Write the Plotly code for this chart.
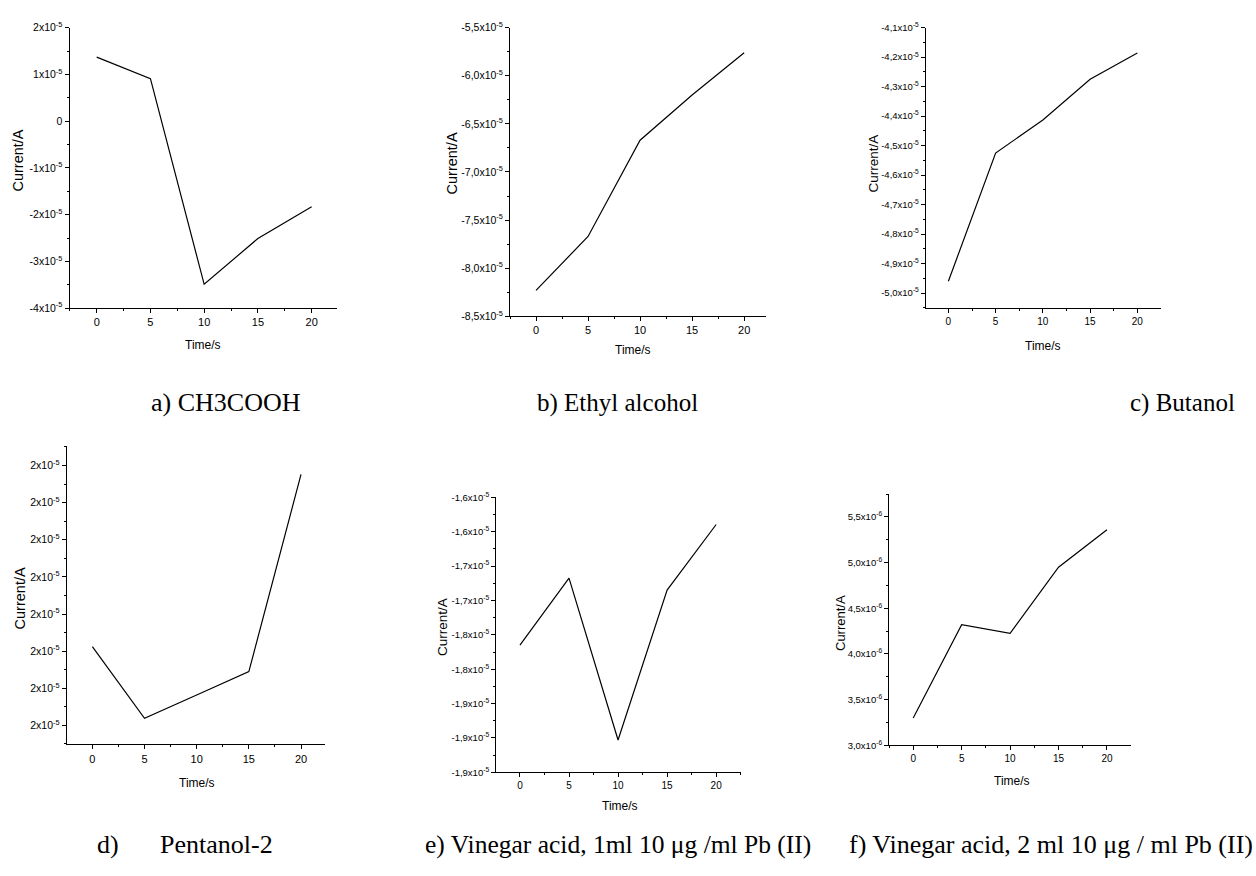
import plotly.graph_objects as go

W, H = 1256, 876

# ---------------- data ----------------
time_s = [0, 5, 10, 15, 20]

current_a = [1.37e-5, 0.91e-5, -3.49e-5, -2.51e-5, -1.83e-5]          # a) CH3COOH
current_b = [-8.23e-5, -7.67e-5, -6.67e-5, -6.20e-5, -5.76e-5]        # b) Ethyl alcohol
current_c = [-4.96e-5, -4.525e-5, -4.413e-5, -4.275e-5, -4.186e-5]    # c) Butanol
current_d = [1.9812e-5, 1.9619e-5, 1.9682e-5, 1.9745e-5, 2.0276e-5]   # d) Pentanol-2
current_e = [-1.752e-5, -1.674e-5, -1.8624e-5, -1.688e-5, -1.6116e-5] # e) Vinegar acid 1 ml
current_f = [3.30e-6, 4.32e-6, 4.226e-6, 4.95e-6, 5.36e-6]            # f) Vinegar acid 2 ml

# ---------------- tick values / labels ----------------
x_ticks = [0, 5, 10, 15, 20]
x_labels = ["0", "5", "10", "15", "20"]

yt_a = [2e-5, 1e-5, 0, -1e-5, -2e-5, -3e-5, -4e-5]
yl_a = ["2x10<sup>-5</sup>", "1x10<sup>-5</sup>", "0", "-1x10<sup>-5</sup>",
        "-2x10<sup>-5</sup>", "-3x10<sup>-5</sup>", "-4x10<sup>-5</sup>"]

yt_b = [-5.5e-5, -6.0e-5, -6.5e-5, -7.0e-5, -7.5e-5, -8.0e-5, -8.5e-5]
yl_b = ["-5,5x10<sup>-5</sup>", "-6,0x10<sup>-5</sup>", "-6,5x10<sup>-5</sup>", "-7,0x10<sup>-5</sup>",
        "-7,5x10<sup>-5</sup>", "-8,0x10<sup>-5</sup>", "-8,5x10<sup>-5</sup>"]

yt_c = [-4.1e-5, -4.2e-5, -4.3e-5, -4.4e-5, -4.5e-5, -4.6e-5, -4.7e-5, -4.8e-5, -4.9e-5, -5.0e-5]
yl_c = ["-4,1x10<sup>-5</sup>", "-4,2x10<sup>-5</sup>", "-4,3x10<sup>-5</sup>", "-4,4x10<sup>-5</sup>",
        "-4,5x10<sup>-5</sup>", "-4,6x10<sup>-5</sup>", "-4,7x10<sup>-5</sup>", "-4,8x10<sup>-5</sup>",
        "-4,9x10<sup>-5</sup>", "-5,0x10<sup>-5</sup>"]

yt_d = [2.03e-5, 2.02e-5, 2.01e-5, 2.00e-5, 1.99e-5, 1.98e-5, 1.97e-5, 1.96e-5]
yl_d = ["2x10<sup>-5</sup>"] * 8

yt_e = [-1.58e-5, -1.62e-5, -1.66e-5, -1.70e-5, -1.74e-5, -1.78e-5, -1.82e-5, -1.86e-5, -1.90e-5]
yl_e = ["-1,6x10<sup>-5</sup>", "-1,6x10<sup>-5</sup>", "-1,7x10<sup>-5</sup>", "-1,7x10<sup>-5</sup>",
        "-1,8x10<sup>-5</sup>", "-1,8x10<sup>-5</sup>", "-1,9x10<sup>-5</sup>", "-1,9x10<sup>-5</sup>",
        "-1,9x10<sup>-5</sup>"]

yt_f = [5.5e-6, 5.0e-6, 4.5e-6, 4.0e-6, 3.5e-6, 3.0e-6]
yl_f = ["5,5x10<sup>-6</sup>", "5,0x10<sup>-6</sup>", "4,5x10<sup>-6</sup>", "4,0x10<sup>-6</sup>",
        "3,5x10<sup>-6</sup>", "3,0x10<sup>-6</sup>"]

captions = ["a) CH3COOH", "b) Ethyl alcohol", "c) Butanol", "d)", "Pentanol-2",
            "e) Vinegar acid, 1ml 10 μg /ml Pb (II)", "f) Vinegar acid, 2 ml 10 μg / ml Pb (II)"]

# ---------------- layout helpers ----------------
SANS = "Liberation Sans"
SERIF = "Liberation Serif"


def mids(vals):
    v = sorted(vals)
    return [(v[i] + v[i + 1]) / 2 for i in range(len(v) - 1)]


panels = [
    dict(y=current_a, yt=yt_a, yl=yl_a, box=(69.5, 337, 20, 305), xr=[-2.53, 22.36], yr=[-4e-5, 2e-5], fs=10.5),
    dict(y=current_b, yt=yt_b, yl=yl_b, box=(510, 766, 20, 313.3), xr=[-2.5, 22.1], yr=[-8.5e-5, -5.5e-5], fs=10.5),
    dict(y=current_c, yt=yt_c, yl=yl_c, box=(925.7, 1160.7, 20, 305), xr=[-2.4, 22.47], yr=[-5.051e-5, -4.1e-5], fs=9.5),
    dict(y=current_d, yt=yt_d, yl=yl_d, box=(66.7, 325, 445, 748.3), xr=[-2.46, 22.3], yr=[1.9549e-5, 2.0353e-5], fs=10.5),
    dict(y=current_e, yt=yt_e, yl=yl_e, box=(496, 740.7, 497.3, 776.7), xr=[-2.44, 22.5], yr=[-1.90e-5, -1.58e-5], fs=9.5),
    dict(y=current_f, yt=yt_f, yl=yl_f, box=(889, 1130.7, 494, 749.3), xr=[-2.5, 22.45], yr=[3.0e-6, 5.75e-6], fs=9.5),
]

fig = go.Figure()
layout = dict(
    width=W, height=H, margin=dict(l=0, r=0, t=0, b=0),
    paper_bgcolor="white", plot_bgcolor="white", showlegend=False,
)

for i, p in enumerate(panels, start=1):
    xa = "x" if i == 1 else f"x{i}"
    ya = "y" if i == 1 else f"y{i}"
    fig.add_trace(go.Scatter(x=time_s, y=p["y"], mode="lines", xaxis=xa, yaxis=ya,
                             line=dict(color="black", width=1.2), hoverinfo="skip"))
    l, r, t, b = p["box"]
    ymins = mids(p["yt"])
    step = abs(p["yt"][0] - p["yt"][1])
    lo, hi = p["yr"]
    extra = [v for v in (min(p["yt"]) - step / 2, max(p["yt"]) + step / 2) if lo - 1e-12 <= v <= hi + 1e-12]
    layout["xaxis" if i == 1 else f"xaxis{i}"] = dict(
        domain=[l / W, r / W], anchor=ya, range=p["xr"],
        tickmode="array", tickvals=x_ticks, ticktext=x_labels,
        ticks="outside", ticklen=4, tickwidth=1, tickcolor="black",
        showline=True, linecolor="black", linewidth=1, showgrid=False, zeroline=False,
        tickfont=dict(family=SANS, size=p["fs"] + 0.5, color="black"),
        minor=dict(tickmode="array", tickvals=[2.5, 7.5, 12.5, 17.5, -2.5 if p["xr"][0] <= -2.5 else 22.5],
                   ticks="outside", ticklen=2, tickwidth=1, tickcolor="black"),
    )
    layout["yaxis" if i == 1 else f"yaxis{i}"] = dict(
        domain=[1 - b / H, 1 - t / H], anchor=xa, range=p["yr"],
        tickmode="array", tickvals=p["yt"], ticktext=p["yl"],
        ticks="outside", ticklen=4, tickwidth=1, tickcolor="black",
        showline=True, linecolor="black", linewidth=1, showgrid=False, zeroline=False,
        tickfont=dict(family=SANS, size=p["fs"], color="black"),
        minor=dict(tickmode="array", tickvals=ymins + extra,
                   ticks="outside", ticklen=2, tickwidth=1, tickcolor="black"),
    )

fig.update_layout(**layout)

ann = []


def add_text(txt, px, py, size, family=SANS, angle=0, xanchor="center"):
    ann.append(dict(text=txt, x=px / W, y=1 - py / H, xref="paper", yref="paper",
                    showarrow=False, xanchor=xanchor, yanchor="middle", textangle=angle,
                    font=dict(family=family, size=size, color="black")))


# axis titles
ylab_pos = [(18, 155), (452, 158), (873, 158), (20, 600), (443, 629), (840, 625)]
xlab_pos = [(203, 342), (633, 348), (1043, 343), (197, 788), (620, 811), (1012, 786)]
title_sizes = [14.5, 14.5, 13.5, 14.5, 13.5, 13]
for (xp, yp), (xx, xy), s in zip(ylab_pos, xlab_pos, title_sizes):
    add_text("Current/A", xp, yp, s, angle=-90)
    add_text("Time/s", xx, xy, 12)

# captions
add_text(captions[0], 149, 401, 26, SERIF, xanchor="left")
add_text(captions[1], 535, 401, 25, SERIF, xanchor="left")
add_text(captions[2], 1128, 401, 25, SERIF, xanchor="left")
add_text(captions[3], 95, 850, 26, SERIF, xanchor="left")
add_text(captions[4], 158, 850, 26, SERIF, xanchor="left")
add_text(captions[5], 423, 850, 25.5, SERIF, xanchor="left")
add_text(captions[6], 1255, 850, 26, SERIF, xanchor="right")

fig.update_layout(annotations=ann)
fig.write_html("out.html")
